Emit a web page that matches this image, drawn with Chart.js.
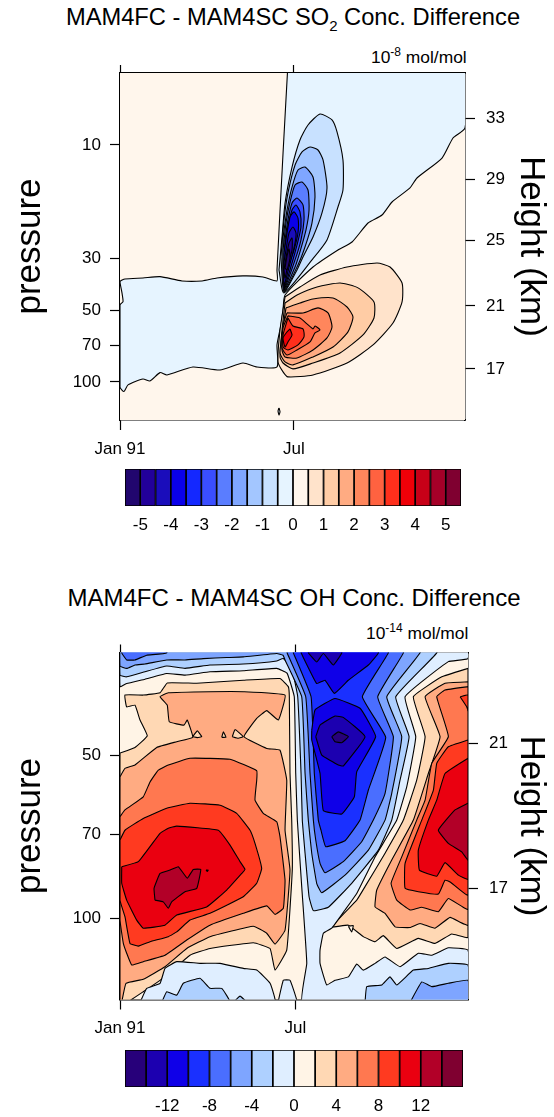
<!DOCTYPE html>
<html>
<head>
<meta charset="utf-8">
<title>MAM4FC - MAM4SC</title>
<script src="https://cdn.jsdelivr.net/npm/chart.js@4"></script>
<style>
  html, body { margin: 0; padding: 0; background: #fff; overflow: hidden; }
  body { width: 554px; height: 1117px; position: relative; font-family: "Liberation Sans", Arial, sans-serif; color: #000; }
  canvas { position: absolute; left: 0; }
  .title { position: absolute; left: 0; width: 586px; text-align: center; font-size: 23.7px; white-space: nowrap; }
  .title sub { font-size: 15px; line-height: 0; }
  .unit { position: absolute; font-size: 17.4px; white-space: nowrap; }
  .unit sup { font-size: 12px; line-height: 0; }
</style>
</head>
<body>
<div class="title" style="top:4px;">MAM4FC - MAM4SC SO<sub>2</sub> Conc. Difference</div>
<div class="unit" style="left:371px; top:47px;">10<sup>-8</sup> mol/mol</div>
<canvas id="so2Chart" width="554" height="480" style="top:0"></canvas>
<canvas id="so2Bar" width="554" height="75" style="top:460px"></canvas>
<div class="title" style="top:584px; width:588px; font-size:24px;">MAM4FC - MAM4SC OH Conc. Difference</div>
<div class="unit" style="left:366px; top:623px;">10<sup>-14</sup> mol/mol</div>
<canvas id="ohChart" width="554" height="460" style="top:580px"></canvas>
<canvas id="ohBar" width="554" height="75" style="top:1041px"></canvas>
<script>
// x = day of the year, y = pressure altitude in km, 16*(3-log10(p))
const monthTicks = [0, 184];
const monthLabels = ["Jan 91", "Jul"];
const so2Pressure = [10, 30, 50, 70, 100];
const so2Heights = [17, 21, 25, 29, 33];
const so2HeightAt = [16.88, 21.13, 25.58, 29.7, 33.82];
const ohPressure = [50, 70, 100];
const ohHeights = [17, 21];
const ohHeightAt = [16.89, 21.18];

const so2Colors = ["#21066e","#22009a","#1a0dbb","#0a00ea","#1428ff","#3a4eff","#5a7dff","#7fa6ff","#a3c6ff","#c8e1ff","#e6f4ff","#fff6ec","#ffe3cb","#ffcca5","#ffab82","#ff865c","#ff6240","#ff2f1c","#ef0008","#c80018","#a50028","#7f0030"];
const so2Centers = [-5.25,-4.75,-4.25,-3.75,-3.25,-2.75,-2.25,-1.75,-1.25,-0.75,-0.25,0.25,0.75,1.25,1.75,2.25,2.75,3.25,3.75,4.25,4.75,5.25];
const so2BarTicks = [-5,-4,-3,-2,-1,0,1,2,3,4,5];
const ohColors = ["#27007a","#1c00b0","#0f00e8","#1a30ff","#4a6eff","#7ea5ff","#aed0ff","#dfeeff","#fff4e6","#ffd8b4","#ffab82","#ff7850","#ff3a20","#ea0010","#b20028","#7f0030"];
const ohCenters = [-15,-13,-11,-9,-7,-5,-3,-1,1,3,5,7,9,11,13,15];
const ohBarTicks = [-12,-8,-4,0,4,8,12];

// SO2 contours
const so2Back = [[0,13],[365,13],[365,37.5],[0,37.5]];
const so2N00 = [[177.7,37.5],[172.5,31.46],[166.1,23.56],[166.1,22.82],[151.3,23.09],[130.1,23.16],[102.6,23.02],[86.8,22.82],[65.6,22.82],[42.3,23.11],[24.3,23.02],[5.3,22.95],[0,22.77],[2.1,22.01],[3.2,21.42],[0,21.2],[0,15.66],[4.2,15.35],[8.5,15.8],[24.3,16.2],[31.7,16.07],[42.3,16.63],[49.7,16.47],[77.2,17.01],[105.8,16.81],[130.1,17.28],[144.9,17.01],[166.1,17.01],[166.1,18.5],[170.3,19.85],[172.5,20.86],[174.6,21.87],[204.2,23.76],[230.6,24.91],[245.5,25.45],[262.4,26.73],[277.2,27.27],[287.8,28.15],[306.8,29.1],[314.2,29.77],[340.7,31.12],[352.3,32.47],[365,33.15],[365,37.5]];
const so2N05 = [[168.2,23.56],[171.4,25.79],[174.6,28.08],[182,30.51],[190.4,32.34],[198.9,33.35],[211.6,34.09],[224.3,33.69],[229.6,32.88],[235.9,30.99],[235.9,28.96],[230.6,27.81],[219,25.59],[203.1,24.24],[173.5,22.01]];
const so2N10 = [[170.3,24.44],[173.5,26.94],[177.7,28.76],[185.2,30.65],[192.6,31.53],[201,31.86],[209.5,31.66],[214.8,30.99],[219,29.1],[213.7,27.41],[204.2,25.79],[193.6,24.44],[187.3,23.56],[173.5,22.08]];
const so2N15 = [[172.5,25.79],[176.7,27.61],[182,29.16],[188.3,30.31],[195.7,30.51],[204.2,29.84],[206.3,28.49],[203.1,26.73],[195.7,25.11],[188.3,23.9],[173.5,22.14]];
const so2N20 = [[172.5,24.91],[175.6,26.73],[179.9,28.15],[185.2,29.3],[192.6,29.5],[198.9,28.96],[200,27.61],[196.8,26.26],[190.4,24.78],[185.2,23.76],[173.5,22.21]];
const so2N25 = [[174.6,25.59],[177.7,26.94],[182,28.08],[187.3,28.42],[193.6,27.95],[194.7,26.94],[191.5,25.59],[185.2,24.24],[173.5,22.28]];
const so2N30 = [[174.6,25.11],[177.7,26.46],[182,27.61],[186.2,27.95],[190.4,27.48],[191.5,26.46],[187.3,25.25],[182,24.03],[173.5,22.35]];
const so2N35 = [[173.5,24.71],[176.7,26.06],[179.9,27.14],[184.1,27.48],[188.3,27.07],[188.3,26.06],[184.1,24.91],[178.8,23.9],[173.5,22.41]];
const so2N40 = [[173.5,24.1],[175.6,24.91],[178.8,26.06],[183,26.46],[186.2,26.06],[185.2,25.38],[180.9,24.24],[173.5,22.55]];
const so2N45 = [[173.5,23.56],[175.6,24.37],[178.8,25.38],[182,25.72],[182,24.91],[177.7,23.9],[174.6,23.02]];
const so2N50 = [[174.6,23.7],[176.7,24.51],[178.8,24.98],[179.9,24.37],[176.7,23.56]];
const so2P05 = [[174.6,21.74],[190.4,22.41],[211.6,23.22],[240.2,23.76],[271.9,24.03],[285.7,23.76],[298.4,22.68],[298.4,21.4],[288.8,19.98],[267.7,18.5],[240.2,17.28],[204.2,16.47],[177.7,16.34],[172.5,16.68],[167.2,17.35],[169.3,19.51]];
const so2P10 = [[174.6,21.33],[187.3,21.87],[208.4,22.41],[232.8,22.68],[251.8,22.35],[268.7,21.4],[268.7,20.32],[257.1,19.17],[232.8,17.96],[204.2,17.28],[183,16.88],[172.5,17.28],[169.3,17.69],[171.4,19.51]];
const so2P15 = [[175.6,21],[190.4,21.33],[204.2,21.6],[225.4,21.67],[240.2,21.06],[246.5,20.39],[241.2,19.38],[225.4,18.36],[204.2,17.69],[183,17.15],[174.6,17.35],[169.3,17.96],[172.5,19.65]];
const so2P20 = [[176.7,20.66],[193.6,20.66],[209.5,21],[220.1,20.66],[224.3,19.71],[219,18.97],[204.2,18.16],[187.3,17.62],[174.6,17.69],[171.4,18.16],[172.5,19.85]];
const so2P25 = [[177.7,20.46],[190.4,20.32],[197.8,19.92],[204.2,19.58],[206.3,19.78],[211.6,19.51],[206.3,19.31],[201,18.7],[187.3,18.16],[176.7,17.82],[171.4,18.3],[172.5,19.65]];
const so2P30 = [[177.7,20.32],[183,19.78],[193.6,19.58],[194.7,19.04],[188.3,18.5],[177.7,18.16],[172.5,18.36],[172.5,19.17]];
const so2P35 = [[179.9,19.58],[182,19.17],[177.7,18.7],[174.6,18.36],[172.5,18.97],[176.7,19.38]];
const so2Blip = [[168.2,14.24],[169.3,13.98],[168.2,13.77],[167.2,14.04]];

// OH contours, warm side
const ohBack = [[0,13],[365,13],[365,24.5],[0,24.5]];
const ohP2L = [[0,20.88],[15.7,21.05],[28.6,21.39],[21,21.86],[15.7,22.3],[7,22.25],[5.2,22.6],[24.4,22.6],[42,22.67],[49.6,22.96],[80.5,22.95],[129.3,23.04],[167.8,23.09],[176.5,22.85],[177.6,22.55],[178.3,20.29],[180.1,18.9],[180.7,17.42],[174.9,15.05],[162.6,14.46],[157.4,15.1],[139.8,15.27],[94.4,15.1],[73.4,14.9],[47.2,14.26],[24.4,13.82],[7,13.5],[0,13.5]];
const ohP4L = [[0,20.18],[5.2,20.43],[15.7,20.53],[38.5,21.05],[59.5,21.22],[76.3,21.35],[70.6,21.86],[67.1,21.71],[51.7,21.81],[49.6,22.3],[42,22.55],[50.7,22.67],[94.4,22.7],[129.3,22.7],[173.1,22.6],[166.1,21.86],[153.9,22.14],[143.4,21.91],[130.1,21.37],[153.9,21.02],[167.8,20.97],[174.9,20.08],[173.1,18.6],[178.3,17.42],[173.1,15.64],[162.6,15.23],[153.9,15.55],[139.8,15.76],[94.4,15.45],[70,15.1],[47.2,14.56],[24.4,14.19],[6.3,14.07],[1.7,13.5],[0,13.5]];
const ohIsle1 = [[76.3,21.37],[81.1,21.54],[85.7,21.37],[81.1,21.34]];
const ohIsle2 = [[106.7,21.35],[108.4,21.51],[111.2,21.35]];
const ohIsle3 = [[117.8,21.37],[120.6,21.58],[129.3,21.37],[124.1,21.32]];
const ohP6L = [[0,19],[5.2,19.2],[24.4,19.59],[31.5,20.03],[40.2,20.38],[50.7,20.53],[73.4,20.73],[115.4,20.7],[143.4,20.36],[143.4,20.08],[141.6,19.49],[150.3,19.1],[164.4,18.85],[167.8,18.41],[173.1,17.12],[171.3,16.29],[162.6,16.11],[153.9,16.36],[129.3,16.14],[94.4,15.79],[70,15.35],[47.2,14.9],[24.4,14.71],[12.3,14.61],[7,14.96],[3.5,15.25],[0,15.94]];
const ohP8L = [[0,18.31],[5.2,18.6],[24.4,18.95],[49,19.25],[73.4,19.4],[104.9,19.34],[122.4,19.1],[136.4,18.6],[141.6,18.21],[148.6,17.47],[143.4,17.03],[129.3,16.63],[94.4,16.14],[73.4,15.94],[59.5,15.59],[50.7,15.45],[31.5,15.3],[19.2,15.17],[10.5,15.25],[5.2,16.04],[0,16.53]];
const ohP10L = [[1.8,17.52],[19.2,17.67],[42,18.51],[50.7,18.66],[59.5,18.72],[103.1,18.6],[115.4,18.16],[125.9,17.67],[131.1,17.44],[127.7,17.32],[111.9,16.83],[90.9,16.33],[59.5,16.09],[47.2,15.79],[24.4,15.7],[17.5,15.94],[7,16.53],[1.8,17.03]];
const ohP12L = [[36.7,16.53],[35.7,16.88],[42,17.32],[52.5,17.42],[61.2,17.52],[70.6,17.18],[76.9,17.44],[84.7,17.44],[80.5,16.88],[68.2,16.78],[54.2,16.48],[50.7,16.29],[45.4,16.48]];
const ohP12Dot = [[90.2,17.42],[92.6,17.42],[91.6,17.38]];
const ohP2R = [[365,23.39],[337.5,23.14],[307.7,22.55],[320,21.37],[311.2,20.08],[297.2,18.9],[278,17.92],[257,16.93],[248.3,16.53],[222.1,15.74],[239.5,15.79],[255.2,15.45],[267.5,15.3],[276.2,15.48],[290.3,15.1],[312.9,15.4],[330.4,15.25],[348,15.53],[365,15.43]];
const ohP4R = [[365,22.99],[340.9,22.95],[320,22.55],[335.7,21.37],[323.4,20.28],[307.7,18.9],[285,17.72],[269.3,16.83],[267.5,16.33],[278,16.14],[288.5,15.74],[304.2,15.72],[314.7,15.84],[330.4,15.7],[346.2,16.02],[365,15.79]];
const ohP6R = [[365,22.85],[340.9,22.75],[332.2,22.55],[344.4,21.37],[327,20.58],[320,19.49],[311.2,18.9],[295.5,17.81],[284.3,17.03],[290.3,16.53],[304.2,16.24],[316.5,16.32],[333.9,16.19],[344.4,16.58],[365,16.26]];
const ohP8R = [[365,21.27],[344.4,21.07],[332.2,20.58],[328.7,19.79],[316.5,18.9],[299,17.62],[299,16.88],[312.9,16.78],[333.9,16.71],[340.9,17.12],[346.2,17.07],[365,16.68]];
const ohP8Blob = [[356.7,22.55],[365,22.6],[365,22.14],[363.7,22.25]];
const ohP10R = [[365,20.73],[340.9,20.28],[332.2,19.49],[323.4,18.9],[312.9,18.01],[314,17.42],[332.2,17.24],[340.9,17.64],[354.9,17.27],[365,17.15]];
const ohP12R = [[365,19.4],[351.4,19.2],[333.9,18.6],[344.4,18.21],[358.4,17.96],[365,17.72]];
const ohTriangle = [[239.5,15.76],[244.7,15.78],[243,15.59]];

// OH contours, cool side
const ohN0 = [[0,24.5],[0,22.85],[7,22.94],[26.2,23.07],[49,23.24],[68.2,23.19],[94.4,23.29],[129.3,23.32],[164.4,23.39],[175.2,23.25],[182.8,22.55],[184.3,20.28],[186,18.9],[190.6,16.93],[195.9,14.66],[191.2,13.5],[365,13.5],[365,15.05],[344.4,15.12],[327,14.9],[312.9,14.96],[293.7,14.56],[278,14.85],[267.5,14.66],[255.2,14.46],[248.3,14.64],[239.5,14.26],[225.5,14.16],[216.8,14.02],[209.8,14.66],[209.8,15.05],[213.3,15.55],[222.1,15.7],[236,16.24],[248.3,16.73],[267.5,17.81],[290.3,18.9],[300.8,19.89],[310.2,21.37],[299,22.55],[344.4,23.59],[365,23.68],[365,24.5]];
const ohN0LobeA = [[21,13.5],[28,13.92],[42,14.07],[47.2,14.51],[59.5,14.71],[83.9,14.66],[104.9,14.66],[129.3,14.51],[143.4,14.46],[157.4,14.07],[162.6,13.5]];
const ohN0LobeB = [[165.7,13.5],[171.3,14.16],[178.3,14.16],[185.7,13.5]];
const ohN2 = [[0,24.5],[0,23.19],[7,23.14],[26.2,23.29],[49,23.46],[68.2,23.39],[94.4,23.49],[129.3,23.52],[164.4,23.61],[171.3,23.68],[180.1,23.39],[186.4,22.55],[189.9,20.28],[191.2,18.9],[194.1,17.92],[198.3,16.63],[202.8,16.22],[218.5,16.32],[243,17.03],[271,18.01],[285,18.9],[293.7,20.08],[303.2,21.37],[289.2,22.55],[332.2,23.85],[332.2,24.5]];
const ohN2Right = [[257,13.5],[258.8,13.97],[274.5,14.02],[283.2,14.26],[290.3,14.02],[307.7,14.46],[323.4,14.51],[344.4,14.66],[365,14.61],[365,13.5]];
const ohN2Left = [[43.7,13.5],[49,13.82],[59.5,13.72],[66.4,14.07],[83.9,14.22],[94.4,13.92],[106.7,13.92],[115.4,13.5]];
const ohN2Tiny = [[118.9,13.5],[125.9,13.69],[132.9,13.5]];
const ohN4 = [[0,24.5],[0,23.46],[7,23.39],[15.7,23.49],[26.2,23.52],[49,23.64],[68.2,23.64],[87.4,23.68],[111.9,23.71],[129.3,23.73],[164.4,23.83],[171,23.78],[173.1,23.64],[190.6,22.55],[194.1,20.28],[197.5,18.9],[201.1,17.92],[206.3,17.03],[211.6,16.75],[236,17.27],[260.5,18.01],[278,18.9],[285,19.69],[295.5,21.37],[279.8,22.55],[314.7,23.85],[314.7,24.5]];
const ohN4Right = [[304.2,13.5],[316.5,14.11],[327,13.97],[344.4,14.07],[365,14.16],[365,13.5]];
const ohN6Corner = [[0,24.5],[1.8,23.85],[7,23.64],[15.7,23.64],[28,23.78],[49,23.85],[49,24.5]];
const ohN6 = [[175.2,23.85],[194.8,22.55],[199.3,20.28],[202.8,18.9],[205.3,18.31],[209.8,17.62],[215,17.34],[234.2,17.67],[253.5,18.26],[265.7,18.9],[278,19.69],[286.7,21.37],[270.3,22.55],[297.2,23.85],[297.2,24.5],[175.2,24.5]];
const ohN8 = [[181.8,23.85],[200.4,22.55],[203.8,20.28],[208,18.9],[210.8,18.6],[215.8,18.11],[236,18.29],[251.8,18.9],[260.5,19.79],[278.7,21.35],[254.2,22.55],[281.4,23.85],[281.4,24.5],[181.8,24.5]];
const ohN10 = [[201.1,21.56],[204.6,22.16],[225.5,22.5],[251.8,22.21],[268.2,21.37],[248.3,20.33],[245.8,19.59],[232.6,19.08],[213.3,19.18],[209.8,20.28],[201.1,21.27]];
const ohN10Top = [[189.9,23.85],[206.3,22.94],[215,23.04],[224.8,22.65],[239.5,23.04],[260.5,23.49],[271,23.85],[271,24.5],[189.9,24.5]];
const ohN12 = [[205.3,21.37],[209.8,21.71],[225.5,21.98],[234.2,21.94],[257,21.37],[234.2,20.5],[229,20.53],[211.6,20.82]];
const ohN12Top = [[197.5,23.85],[206.3,23.58],[213.3,23.83],[223.8,23.49],[232.6,23.85],[232.6,24.5],[197.5,24.5]];
const ohN14 = [[222.1,21.37],[229,21.51],[239.5,21.37],[232.6,21.19],[225.5,21.22]];

// painted from the back, each entry is [contour, colour index]
const so2Layers = [
  [so2Back,11],[so2N00,10],[so2P05,12],[so2P10,13],[so2P15,14],[so2P20,15],[so2P25,16],[so2P30,17],[so2P35,18],
  [so2N05,9],[so2N10,8],[so2N15,7],[so2N20,6],[so2N25,5],[so2N30,4],[so2N35,3],[so2N40,2],[so2N45,1],[so2N50,0],[so2Blip,10]
];
const ohLayers = [
  [ohBack,8],[ohP2L,9],[ohP4L,10],[ohIsle1,9],[ohIsle2,9],[ohIsle3,9],[ohP6L,11],[ohP8L,12],[ohP10L,13],[ohP12L,14],[ohP12Dot,14],
  [ohP2R,9],[ohP4R,10],[ohP6R,11],[ohP8R,12],[ohP8Blob,12],[ohP10R,13],[ohP12R,14],[ohTriangle,8],
  [ohN0,7],[ohN0LobeA,7],[ohN0LobeB,7],[ohN2,6],[ohN2Right,6],[ohN2Left,6],[ohN2Tiny,6],[ohN4,5],[ohN4Right,5],
  [ohN6Corner,4],[ohN6,4],[ohN8,3],[ohN10,2],[ohN10Top,2],[ohN12,1],[ohN12Top,1],[ohN14,0]
];

const tickFont = { family: "Liberation Sans", size: 17 };
const titleFont = { family: "Liberation Sans", size: 35 };

function pressureToKm(p) {
  return 16 * (3 - Math.log10(p));
}

function axisGrid(tickLength) {
  return { display: true, drawOnChartArea: false, drawTicks: true, tickLength: tickLength, tickColor: "#000", tickWidth: 1.2 };
}

function fixedSize(prop, size) {
  return scale => { scale[prop] = size; };
}

function makeContourChart(canvasId, layers, colors, box, pressure, heights, heightAt, tension) {
  const datasets = layers.map((layer, i) => ({
    data: layer[0].concat([layer[0][0]]).map(p => ({ x: p[0], y: p[1] })),
    showLine: true,
    fill: "shape",
    backgroundColor: colors[layer[1]],
    borderColor: i === 0 ? "rgba(0,0,0,0)" : "#000",
    borderWidth: i === 0 ? 0 : 1.1,
    pointRadius: 0,
    tension: tension,
    order: layers.length - i
  }));

  new Chart(document.getElementById(canvasId), {
    type: "scatter",
    data: { datasets: datasets },
    options: {
      responsive: false,
      animation: false,
      devicePixelRatio: 1,
      events: [],
      layout: { padding: 0 },
      plugins: { legend: { display: false }, tooltip: { enabled: false } },
      scales: {
        x: {
          type: "linear", position: "bottom", min: 0, max: 365,
          afterFit: fixedSize("height", box.bottom),
          afterBuildTicks: s => { s.ticks = monthTicks.map(v => ({ value: v })); },
          grid: axisGrid(10),
          border: { color: "#000", width: 1.5 },
          ticks: { font: tickFont, color: "#000", padding: 9, maxRotation: 0, autoSkip: false, callback: (v, i) => monthLabels[i] }
        },
        xTop: {
          type: "linear", position: "top", min: 0, max: 365,
          afterFit: fixedSize("height", box.top),
          afterBuildTicks: s => { s.ticks = monthTicks.map(v => ({ value: v })); },
          grid: axisGrid(8),
          border: { color: "#000", width: 1.5 },
          ticks: { display: false }
        },
        y: {
          type: "linear", position: "left", min: box.zMin, max: box.zMax,
          afterFit: fixedSize("width", box.left),
          afterBuildTicks: s => { s.ticks = pressure.map(p => ({ value: pressureToKm(p) })); },
          grid: axisGrid(10),
          border: { color: "#000", width: 1.5 },
          title: { display: true, text: "pressure", font: titleFont, color: "#000", padding: { top: 9, bottom: 0 } },
          ticks: { font: tickFont, color: "#000", padding: 9, autoSkip: false, callback: (v, i) => String(pressure[i]) }
        },
        yRight: {
          type: "linear", position: "right", min: box.zMin, max: box.zMax,
          afterFit: fixedSize("width", box.right),
          afterBuildTicks: s => { s.ticks = heightAt.map(v => ({ value: v })); },
          grid: axisGrid(10),
          border: { color: "#000", width: 1.5 },
          title: { display: true, text: "Height (km)", font: titleFont, color: "#000", padding: { top: 2, bottom: 0 } },
          ticks: { font: tickFont, color: "#000", padding: 11, autoSkip: false, callback: (v, i) => String(heights[i]) }
        }
      }
    }
  });
}

function makeColorBar(canvasId, colors, centers, barTicks, box) {
  new Chart(document.getElementById(canvasId), {
    type: "bar",
    data: {
      datasets: [{
        data: centers.map(c => ({ x: c, y: 1 })),
        backgroundColor: colors,
        borderColor: "#000",
        borderWidth: 1.2,
        borderSkipped: false,
        barPercentage: 1,
        categoryPercentage: 1
      }]
    },
    options: {
      responsive: false,
      animation: false,
      devicePixelRatio: 1,
      events: [],
      layout: { padding: { left: box.left, right: box.right, top: box.top, bottom: 0 } },
      plugins: { legend: { display: false }, tooltip: { enabled: false } },
      scales: {
        x: {
          type: "linear", min: box.min, max: box.max, offset: false,
          afterFit: fixedSize("height", box.axis),
          afterBuildTicks: s => { s.ticks = barTicks.map(v => ({ value: v })); },
          grid: { display: false, drawTicks: false },
          border: { display: false },
          ticks: { font: tickFont, color: "#000", padding: 9, maxRotation: 0, autoSkip: false, callback: v => String(v) }
        },
        y: { display: false, min: 0, max: 1 }
      }
    }
  });
}

makeContourChart("so2Chart", so2Layers, so2Colors,
  { left: 120, right: 89, top: 73, bottom: 60, zMin: 13.43, zMax: 36.86 },
  so2Pressure, so2Heights, so2HeightAt, 0.2);
makeContourChart("ohChart", ohLayers, ohColors,
  { left: 120, right: 86, top: 72.5, bottom: 40.5, zMin: 13.59, zMax: 23.86 },
  ohPressure, ohHeights, ohHeightAt, 0.1);
makeColorBar("so2Bar", so2Colors, so2Centers, so2BarTicks, { left: 125, right: 93, top: 9, axis: 29, min: -5.5, max: 5.5 });
makeColorBar("ohBar", ohColors, ohCenters, ohBarTicks, { left: 125, right: 91, top: 9, axis: 29, min: -16, max: 16 });
</script>
</body>
</html>
